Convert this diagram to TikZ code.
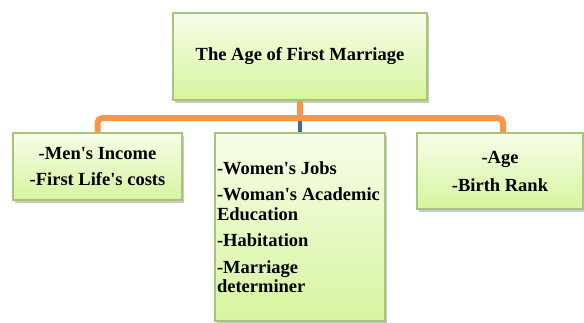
\documentclass[tikz,border=0pt]{standalone}
\usepackage{fontspec}
\setmainfont{Liberation Serif}
\usetikzlibrary{shadows}
\definecolor{boxtop}{HTML}{F7FDE8}
\definecolor{boxbot}{HTML}{D6F59E}
\definecolor{boxline}{HTML}{A8C47A}
\definecolor{conorange}{HTML}{F79646}
\definecolor{conblue}{HTML}{3F6A9E}
\newcommand{\sq}{\textquotesingle}
\tikzset{
  box/.style={draw=boxline, line width=1.2pt, top color=boxtop, bottom color=boxbot,
    drop shadow={shadow xshift=2pt, shadow yshift=-3pt, opacity=0.35, fill=black!60},
    font=\fontsize{18.5}{19.5}\selectfont\bfseries, inner sep=2pt},
  orangecon/.style={draw=conorange, line width=6pt, rounded corners=5pt},
  bluecon/.style={draw=conblue, line width=4pt},
}
\begin{document}
\begin{tikzpicture}[x=1pt,y=-1pt]
\useasboundingbox (0,0) rectangle (584,322);
\coordinate (bar) at (300,118);
\node[box, minimum width=254pt, minimum height=87pt] (top) at (300,56.5) {The Age of First Marriage};
\node[box, minimum width=169pt, minimum height=67pt, align=center] (left) at (97.5,166.5)
  {-Men\sq s Income\\[6.5pt]-First Life\sq s costs};
\node[box, minimum width=170pt, minimum height=188pt] (mid) at (300,227)
  {\parbox{166pt}{-Women\sq s Jobs\\[7pt]-Woman\sq s Academic\\Education\\[7pt]-Habitation\\[7pt]-Marriage\\determiner}};
\node[box, minimum width=166pt, minimum height=76pt, align=center] (right) at (500,171)
  {-Age\\[8.5pt]-Birth Rank};
\draw[bluecon] (bar) -- (mid.north);
\draw[orangecon] (left.north) |- (bar) -| ([xshift=3pt]right.north);
\draw[orangecon] (top.south) -- (bar);
\end{tikzpicture}
\end{document}
